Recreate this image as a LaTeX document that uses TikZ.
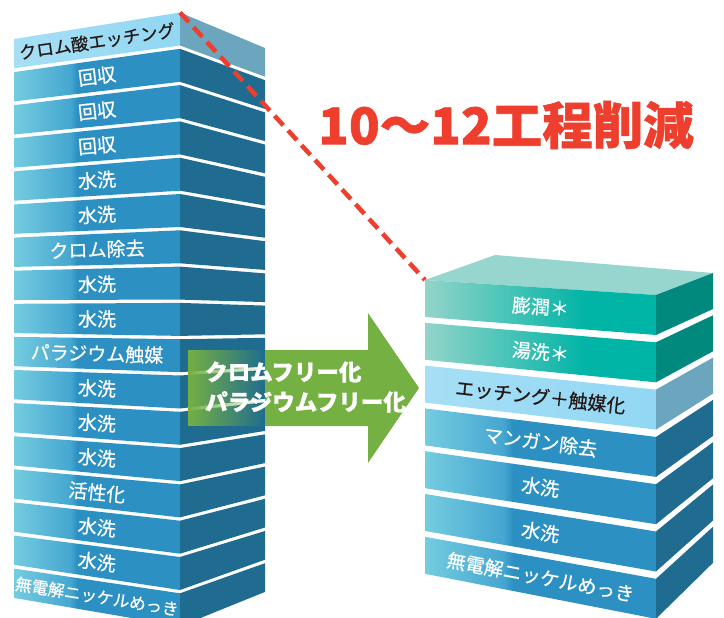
\documentclass[tikz,border=0pt]{standalone}
\usepackage{fontspec}
\usepackage{tikz}
\usetikzlibrary{positioning,fadings}
\newfontfamily\jp{Noto Sans CJK JP}[FakeBold=0.6]
\newfontfamily\jpheavy{Noto Sans CJK JP}[BoldFeatures={FakeBold=1.2}]

\definecolor{bluelite}{HTML}{74CCE0}
\definecolor{bluemid}{HTML}{45A6D0}
\definecolor{bluefront}{HTML}{2C90C2}
\definecolor{blueside}{HTML}{1F6C90}
\definecolor{skylite}{HTML}{A6DFF5}
\definecolor{skyfront}{HTML}{92D7F4}
\definecolor{skyside}{HTML}{6BA5BE}
\definecolor{teallite}{HTML}{93D4CA}
\definecolor{tealfront}{HTML}{00B4A6}
\definecolor{tealside}{HTML}{00897C}
\definecolor{tealtop}{HTML}{97D5CF}
\definecolor{arrowgreen}{HTML}{75B043}
\definecolor{cutred}{HTML}{EE3F2E}
\definecolor{inkdark}{HTML}{231815}

\pgfdeclarehorizontalshading{bluefade}{100bp}{color(0bp)=(bluelite); color(25bp)=(bluelite);
  color(42bp)=(bluemid); color(44bp)=(bluefront); color(100bp)=(bluefront)}
\pgfdeclarehorizontalshading{skyfade}{100bp}{color(0bp)=(skylite); color(25bp)=(skylite);
  color(75bp)=(skyfront); color(100bp)=(skyfront)}
\pgfdeclarehorizontalshading{tealfade}{100bp}{color(0bp)=(teallite); color(25bp)=(teallite);
  color(60bp)=(tealfront); color(100bp)=(tealfront)}

\tikzset{
  blue front/.style={shading=bluefade},
  blue side/.style={fill=blueside},
  blue text/.style={text=white},
  sky front/.style={shading=skyfade},
  sky side/.style={fill=skyside},
  sky text/.style={text=inkdark},
  teal front/.style={shading=tealfade},
  teal side/.style={fill=tealside},
  teal text/.style={text=white},
  steplabel/.style={inner sep=0pt},
  cutline/.style={cutred,line width=4.5pt,dash pattern=on 13pt off 7pt},
}

\begin{document}
\begin{tikzpicture}[x=1pt,y=-1pt]
  \useasboundingbox (0,0) rectangle (724,618);

  % old process: 17 steps
  \foreach \lab/\kind/\fs [count=\k from 0] in {クロム酸エッチング/sky/17.5,回収/blue/19,
      回収/blue/19,回収/blue/19,水洗/blue/19,水洗/blue/19,クロム除去/blue/19,水洗/blue/19,
      水洗/blue/19,パラジウム触媒/blue/19,水洗/blue/19,水洗/blue/19,水洗/blue/19,
      活性化/blue/19,水洗/blue/19,水洗/blue/19,無電解ニッケルめっき/blue/16.5}{
    \pgfmathsetmacro\ta{39+33.1*\k}   \pgfmathsetmacro\ba{\ta+29.3}
    \pgfmathsetmacro\tb{12.5+36.3*\k} \pgfmathsetmacro\bb{\tb+33}
    \pgfmathsetmacro\tc{48+32.2*\k}   \pgfmathsetmacro\bc{\tc+28.7}
    \shade[\kind\space front] (14,\ta) -- (180,\tb) -- (180,\bb) -- (14,\ba) -- cycle;
    \fill[\kind\space side] (180,\tb) -- (265,\tc) -- (265,\bc) -- (180,\bb) -- cycle;
    \path (14,\ta+14.6) -- (180,\tb+16.5)
      node[midway,sloped,steplabel,\kind\space text,font=\jp\fontsize{\fs}{\fs}\selectfont] (old\k) {\lab};
  }

  % arrow
  \fill[arrowgreen,path fading=east] (188,350) rectangle (266,426);
  \fill[arrowgreen] (265,350) -- (368,350) -- (368,313) -- (419,388)
    -- (368,463) -- (368,426) -- (265,426) -- cycle;
  \node[anchor=west,align=left,inner sep=0pt,text=white,
    font=\jpheavy\bfseries\fontsize{22.5}{30}\selectfont] (free) at (205,387)
    {クロムフリー化\\パラジウムフリー化};

  % new process: 7 steps
  \fill[tealtop] (425,280) -- (495,255) -- (713,273) -- (656,295) -- cycle;
  \foreach \lab/\kind [count=\k from 0] in {膨潤＊/teal,湯洗＊/teal,
      エッチング＋触媒化/sky,マンガン除去/blue,水洗/blue,水洗/blue,無電解ニッケルめっき/blue}{
    \pgfmathsetmacro\ta{280+42.8*\k} \pgfmathsetmacro\ba{\ta+37}
    \pgfmathsetmacro\tb{295+47.3*\k} \pgfmathsetmacro\bb{\tb+40}
    \pgfmathsetmacro\tc{273+42.3*\k} \pgfmathsetmacro\bc{\tc+36}
    \shade[\kind\space front] (425,\ta) -- (656,\tb) -- (656,\bb) -- (425,\ba) -- cycle;
    \fill[\kind\space side] (656,\tb) -- (713,\tc) -- (713,\bc) -- (656,\bb) -- cycle;
    \path (425,\ta+18.5) -- (656,\tb+20)
      node[midway,sloped,steplabel,\kind\space text,font=\jp\fontsize{19}{19}\selectfont] (new\k) {\lab};
  }

  \coordinate (oldtop) at (180,12.5);
  \coordinate (newtop) at (425,280);
  \draw[cutline] (oldtop) -- (newtop);

  \node[text=cutred,inner sep=0pt,font=\jpheavy\bfseries\fontsize{50.5}{50.5}\selectfont]
    (cut) at (506,125) {10～12工程削減};
\end{tikzpicture}
\end{document}
